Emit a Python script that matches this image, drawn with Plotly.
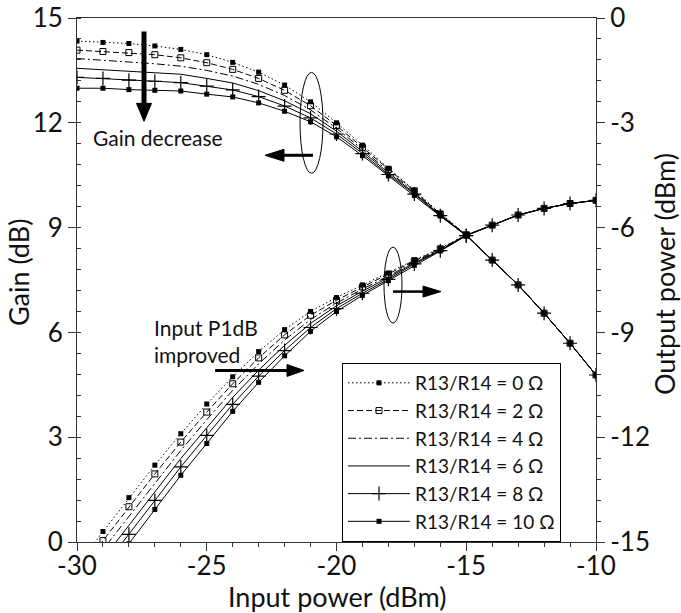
import plotly.graph_objects as go

# ---------------- data ----------------
input_power = [-30, -29, -28, -27, -26, -25, -24, -23, -22, -21, -20,
               -19, -18, -17, -16, -15, -14, -13, -12, -11, -10]

series_names = ["R13/R14 = 0 Ω", "R13/R14 = 2 Ω", "R13/R14 = 4 Ω",
                "R13/R14 = 6 Ω", "R13/R14 = 8 Ω", "R13/R14 = 10 Ω"]

gain_0 = [14.34, 14.30, 14.27, 14.20, 14.10, 13.95, 13.73, 13.45, 13.08, 12.60, 12.00,
          11.36, 10.70, 10.07, 9.41, 8.79, 8.07, 7.36, 6.55, 5.69, 4.78]
gain_2 = [14.08, 14.04, 14.01, 13.95, 13.86, 13.72, 13.53, 13.27, 12.93, 12.49, 11.92,
          11.30, 10.66, 10.05, 9.39, 8.79, 8.07, 7.36, 6.55, 5.69, 4.78]
gain_4 = [13.84, 13.79, 13.75, 13.69, 13.62, 13.50, 13.34, 13.10, 12.78, 12.37, 11.84,
          11.24, 10.61, 10.02, 9.37, 8.78, 8.07, 7.36, 6.55, 5.69, 4.78]
gain_6 = [13.56, 13.52, 13.48, 13.44, 13.39, 13.27, 13.14, 12.92, 12.63, 12.26, 11.76,
          11.18, 10.57, 9.99, 9.35, 8.78, 8.07, 7.36, 6.55, 5.69, 4.78]
gain_8 = [13.30, 13.27, 13.22, 13.19, 13.15, 13.05, 12.94, 12.75, 12.48, 12.14, 11.68,
          11.12, 10.52, 9.96, 9.34, 8.77, 8.07, 7.36, 6.55, 5.69, 4.78]
gain_10 = [12.99, 12.99, 12.95, 12.93, 12.91, 12.82, 12.74, 12.57, 12.33, 12.03, 11.60,
           11.06, 10.48, 9.92, 9.33, 8.77, 8.07, 7.36, 6.55, 5.69, 4.78]

out_0 = [-15.66, -14.70, -13.73, -12.80, -11.90, -11.05, -10.27, -9.55, -8.92, -8.40, -8.00,
         -7.64, -7.30, -6.93, -6.59, -6.21, -5.93, -5.64, -5.45, -5.31, -5.22]
out_2 = [-15.92, -14.96, -13.99, -13.05, -12.14, -11.28, -10.47, -9.73, -9.07, -8.51, -8.08,
         -7.70, -7.34, -6.95, -6.61, -6.21, -5.93, -5.64, -5.45, -5.31, -5.22]
out_4 = [-16.16, -15.21, -14.25, -13.31, -12.38, -11.50, -10.66, -9.90, -9.22, -8.63, -8.16,
         -7.76, -7.39, -6.98, -6.63, -6.22, -5.93, -5.64, -5.45, -5.31, -5.22]
out_6 = [-16.44, -15.48, -14.52, -13.56, -12.61, -11.73, -10.86, -10.08, -9.37, -8.74, -8.24,
         -7.82, -7.43, -7.01, -6.65, -6.22, -5.93, -5.64, -5.45, -5.31, -5.22]
out_8 = [-16.70, -15.73, -14.78, -13.81, -12.85, -11.95, -11.06, -10.25, -9.52, -8.86, -8.32,
         -7.88, -7.48, -7.04, -6.66, -6.23, -5.93, -5.64, -5.45, -5.31, -5.22]
out_10 = [-17.01, -16.01, -15.05, -14.07, -13.09, -12.18, -11.26, -10.43, -9.67, -8.97, -8.40,
          -7.94, -7.52, -7.08, -6.67, -6.23, -5.93, -5.64, -5.45, -5.31, -5.22]

x_tickvals = [-30, -25, -20, -15, -10]
x_ticktext = ["-30", "-25", "-20", "-15", "-10"]
y_tickvals = [0, 3, 6, 9, 12, 15]
y_ticktext = ["0", "3", "6", "9", "12", "15"]
y2_tickvals = [-15, -12, -9, -6, -3, 0]
y2_ticktext = ["-15", "-12", "-9", "-6", "-3", "0"]

gains = [gain_0, gain_2, gain_4, gain_6, gain_8, gain_10]
outs = [out_0, out_2, out_4, out_6, out_8, out_10]

# ---------------- styles ----------------
FONT = "Lato"
TXT = "#111111"
styles = [
    dict(dash="1.5px,2.5px", marker=dict(symbol="square", size=5, color="black"), mode="lines+markers"),
    dict(dash="6px,3px", marker=dict(symbol="square-open", size=6, color="black", line=dict(width=1)), mode="lines+markers"),
    dict(dash="8px,3px,2px,3px", marker=None, mode="lines"),
    dict(dash="solid", marker=None, mode="lines"),
    dict(dash="solid", marker=dict(symbol="cross-thin-open", size=10, color="black", line=dict(width=1.2, color="black")), mode="lines+markers"),
    dict(dash="solid", marker=dict(symbol="square", size=5, color="black"), mode="lines+markers"),
]

fig = go.Figure()
for name, g, o, st in zip(series_names, gains, outs, styles):
    kw = dict(mode=st["mode"], line=dict(color="black", width=1, dash=st["dash"]))
    if st["marker"] is not None:
        kw["marker"] = st["marker"]
    fig.add_trace(go.Scatter(x=input_power, y=g, name=name, legendgroup=name,
                             showlegend=True, yaxis="y", **kw))
    fig.add_trace(go.Scatter(x=input_power, y=o, name=name, legendgroup=name,
                             showlegend=False, yaxis="y2", **kw))

# ---------------- layout helpers (pixel -> paper) ----------------
W, H = 681, 613
L, R, T, B = 77, 596, 17.5, 542.3


def px(X):
    return (X - L) / (R - L)


def py(Y):
    return (B - Y) / (B - T)


shapes = []


def arrow(x0, y0, x1, y1, lw, hl, hw):
    if x0 == x1:
        sgn = 1 if y1 > y0 else -1
        ye = y1 - sgn * hl
        shapes.append(dict(type="line", xref="paper", yref="paper",
                           x0=px(x0), y0=py(y0), x1=px(x1), y1=py(ye),
                           line=dict(color="black", width=lw)))
        path = "M{},{} L{},{} L{},{} Z".format(px(x1 - hw / 2), py(ye), px(x1 + hw / 2), py(ye), px(x1), py(y1))
    else:
        sgn = 1 if x1 > x0 else -1
        xe = x1 - sgn * hl
        shapes.append(dict(type="line", xref="paper", yref="paper",
                           x0=px(x0), y0=py(y0), x1=px(xe), y1=py(y1),
                           line=dict(color="black", width=lw)))
        path = "M{},{} L{},{} L{},{} Z".format(px(xe), py(y1 - hw / 2), px(xe), py(y1 + hw / 2), px(x1), py(y1))
    shapes.append(dict(type="path", xref="paper", yref="paper", path=path,
                       fillcolor="black", line=dict(color="black", width=1)))


arrow(144, 31, 144, 121, 5, 18, 15)
arrow(313, 155, 265, 155, 3, 19, 12)
arrow(393, 291.5, 441, 291.5, 2.5, 18, 11)
arrow(215, 370.5, 304, 370.5, 3, 17, 12)

shapes.append(dict(type="circle", xref="paper", yref="paper",
                   x0=px(300), x1=px(323), y0=py(173), y1=py(72),
                   line=dict(color="black", width=1)))
shapes.append(dict(type="circle", xref="paper", yref="paper",
                   x0=px(384), x1=px(402), y0=py(323), y1=py(247),
                   line=dict(color="black", width=1)))

title_font = dict(family=FONT, size=27, color=TXT)
annotations = [
    dict(text="Gain decrease", xref="paper", yref="paper", x=px(91), y=py(137),
         xanchor="left", yanchor="middle", showarrow=False,
         font=dict(family=FONT, size=21, color=TXT)),
    dict(text="Input P1dB<br>improved", xref="paper", yref="paper", x=px(152), y=py(341),
         xanchor="left", yanchor="middle", showarrow=False, align="left",
         font=dict(family=FONT, size=21, color=TXT)),
    dict(text="Input power (dBm)", xref="paper", yref="paper", x=0.5, y=py(597),
         xanchor="center", yanchor="middle", showarrow=False, font=title_font),
    dict(text="Gain (dB)", xref="paper", yref="paper", x=px(18), y=py(272),
         xanchor="center", yanchor="middle", showarrow=False, textangle=-90, font=title_font),
    dict(text="Output power (dBm)", xref="paper", yref="paper", x=px(664), y=py(274),
         xanchor="center", yanchor="middle", showarrow=False, textangle=-90, font=title_font),
]

axis_common = dict(showline=True, linecolor="#333", linewidth=1, showgrid=False,
                   zeroline=False, ticks="outside", ticklen=8, tickcolor="#333",
                   automargin=False,
                   tickfont=dict(family=FONT, size=26, color=TXT))

fig.update_layout(
    width=W, height=H,
    margin=dict(l=L, r=W - R, t=T, b=H - B, autoexpand=False),
    paper_bgcolor="white", plot_bgcolor="white",
    showlegend=True,
    legend=dict(x=px(342), y=py(363), xanchor="left", yanchor="top",
                bgcolor="white", bordercolor="black", borderwidth=1,
                font=dict(family=FONT, size=19, color=TXT),
                itemwidth=62, tracegroupgap=0),
    xaxis=dict(range=[-30, -10], tickvals=x_tickvals, ticktext=x_ticktext,
               mirror=True, ticklabelstandoff=-7,
               minor=dict(dtick=1, ticks="outside", ticklen=4, tickcolor="#333"),
               **axis_common),
    yaxis=dict(range=[0, 15], tickvals=y_tickvals, ticktext=y_ticktext,
               minor=dict(tick0=0, dtick=0.6, ticks="inside", ticklen=4, tickcolor="#333"),
               **axis_common),
    yaxis2=dict(range=[-15, 0], tickvals=y2_tickvals, ticktext=y2_ticktext,
                overlaying="y", side="right",
                minor=dict(tick0=0, dtick=0.6, ticks="outside", ticklen=4, tickcolor="#333"),
                **axis_common),
    shapes=shapes,
    annotations=annotations,
)

fig.write_html("out.html", config={"displayModeBar": False},
               post_script="document.body.style.margin='0';document.body.style.overflow='hidden';")
